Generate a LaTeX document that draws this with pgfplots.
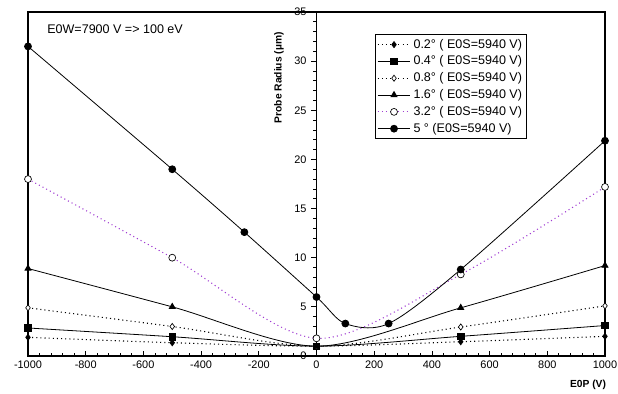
\documentclass[border=0pt]{standalone}
\usepackage{pgfplots}
\pgfplotsset{compat=1.18}
\usepackage{fontspec}
\setmainfont{Liberation Sans}
\definecolor{violetline}{RGB}{160,60,210}
\begin{document}
\begin{tikzpicture}[font=\fontsize{8.2}{10}\selectfont]
\begin{axis}[
  scale only axis, width=432.75pt, height=258pt,
  xmin=-1000, xmax=1000, ymin=0, ymax=35,
  axis x line*=bottom, axis y line*=middle,
  axis line style={line width=1pt},
  hide obscured x ticks=false, hide obscured y ticks=false,
  xtick={-1000,-800,...,1000}, minor x tick num=4,
  ytick={0,5,...,35}, minor y tick num=4,
  xtick align=inside, ytick align=outside,
  major tick length=4pt, minor tick length=2.5pt,
  tick style={black, line width=0.6pt},
  ticklabel style={font=\fontsize{8.2}{10}\selectfont},
  /pgf/number format/.cd, 1000 sep={}, assume math mode=true, /pgfplots/.cd,
  clip=false,
  legend style={at={(rel axis cs:0.601,0.936)}, anchor=north west, draw=black, line width=0.6pt,
     font=\fontsize{9.4}{11}\selectfont, row sep=0.3pt, inner sep=1.5pt},
  legend cell align=left,
  legend image code/.code={\draw[mark repeat=2,mark phase=2] plot coordinates {(0cm,0cm)(0.43cm,0cm)(0.86cm,0cm)};},
  every axis plot/.append style={line width=0.6pt, smooth, tension=0.5},
  dotline/.style={dash pattern=on 0.8pt off 2.3pt, line width=0.8pt},
]
\addplot[black, dotline, mark=diamond*, mark size=2.3pt, mark options={solid, line width=0.5pt}] coordinates {
 (-1000,1.9) (-500,1.35) (0,1.0) (500,1.45) (1000,2.0)};
\addlegendentry{0.2° ( E0S=5940 V)}
\addplot[black, mark=square*, mark size=2.4pt, mark options={solid}] coordinates {
 (-1000,2.85) (-500,1.96) (0,1.0) (500,2.0) (1000,3.1)};
\addlegendentry{0.4° ( E0S=5940 V)}
\addplot[black, dotline, mark=diamond*, mark size=2.3pt, mark options={solid, fill=white, line width=0.5pt}] coordinates {
 (-1000,4.9) (-500,3.0) (0,1.0) (500,2.95) (1000,5.1)};
\addlegendentry{0.8° ( E0S=5940 V)}
\addplot[black, mark=triangle*, mark size=2.6pt, mark options={solid}] coordinates {
 (-1000,8.9) (-500,5.0) (0,1.0) (500,4.9) (1000,9.2)};
\addlegendentry{1.6° ( E0S=5940 V)}
\addplot[violetline, dotline, mark=*, mark size=2.6pt, mark options={solid, draw=black, fill=white, line width=0.5pt}] coordinates {
 (-1000,18.0) (-500,10.0) (0,1.8) (500,8.3) (1000,17.2)};
\addlegendentry{3.2° ( E0S=5940 V)}
\addplot[black, mark=*, mark size=2.6pt, mark options={solid}] coordinates {
 (-1000,31.5) (-500,19.0) (-250,12.6) (0,6.0) (100,3.3) (250,3.3) (500,8.8) (1000,21.9)};
\addlegendentry{5 ° (E0S=5940 V)}
\draw[line width=1.3pt] (rel axis cs:0,0) rectangle (rel axis cs:1,1);
\node[rotate=90, font=\fontsize{7.7}{9}\selectfont\bfseries] at (axis cs:-130,28.3) {Probe Radius (µm)};
\node[font=\fontsize{7.7}{9}\selectfont\bfseries] at (axis cs:941,-2.95) {E0P (V)};
\node[anchor=west, inner sep=0pt, font=\fontsize{9.4}{11}\selectfont] at (axis cs:-934,33.3) {E0W=7900 V => 100 eV};
\coordinate (bl) at (rel axis cs:0,0);
\coordinate (tr) at (rel axis cs:1,1);
\end{axis}
\pgfresetboundingbox
\path (bl) ++(-21pt,-28.5pt) coordinate (a) (tr) ++(9.75pt,9pt) coordinate (b);
\path[use as bounding box] (a) rectangle (b);
\end{tikzpicture}
\end{document}
